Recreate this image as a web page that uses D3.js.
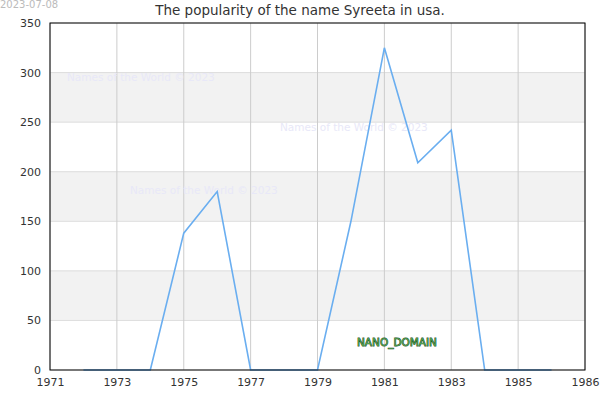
<!DOCTYPE html>
<html>
<head>
<meta charset="utf-8">
<script src="https://d3js.org/d3.v7.min.js"></script>
<style>
  body { margin: 0; background: #fff; }
  text { font-family: "DejaVu Sans", sans-serif; }
</style>
</head>
<body>
<svg width="600" height="400"></svg>
<script>
    const years = [1972, 1973, 1974, 1975, 1976, 1977, 1978, 1979, 1980, 1981, 1982, 1983, 1984, 1985, 1986];
    const counts = [0, 0, 0, 138, 180, 0, 0, 0, 150, 325, 209, 242, 0, 0, 0];
    const xTickValues = [1971, 1973, 1975, 1977, 1979, 1981, 1983, 1985, 1987];
    const xTickLabels = ["1971", "1973", "1975", "1977", "1979", "1981", "1983", "1985", "1986"];
    const yTicks = [0, 50, 100, 150, 200, 250, 300, 350];
    const bands = [[50, 100], [150, 200], [250, 300]];

    const margin = {top: 23, right: 15, bottom: 30, left: 50};
    const width = 600, height = 400;

    const svg = d3.select("svg");

    const x = d3.scaleLinear().domain([1971, 1987]).range([margin.left, width - margin.right]);
    const y = d3.scaleLinear().domain([0, 350]).range([height - margin.bottom, margin.top]);

    // alternating bands
    svg.append('g')
        .selectAll('rect')
        .data(bands)
        .enter()
        .append('rect')
        .attr('x', x(1971))
        .attr('width', x(1987) - x(1971))
        .attr('y', d => y(d[1]))
        .attr('height', d => y(d[0]) - y(d[1]))
        .attr('fill', '#f2f2f2');

    // horizontal grid
    svg.append('g')
        .selectAll('line')
        .data(yTicks)
        .enter()
        .append('line')
        .attr('x1', x(1971))
        .attr('x2', x(1987))
        .attr('y1', d => y(d))
        .attr('y2', d => y(d))
        .attr('stroke', '#dddddd');

    // vertical grid
    svg.append('g')
        .selectAll('line')
        .data(xTickValues)
        .enter()
        .append('line')
        .attr('x1', d => x(d))
        .attr('x2', d => x(d))
        .attr('y1', y(0))
        .attr('y2', y(350))
        .attr('stroke', '#cccccc');

    // watermarks
    const wm = [[67, 81], [280, 131], [130, 194]];
    svg.append('g')
        .selectAll('text')
        .data(wm)
        .enter()
        .append('text')
        .attr('x', d => d[0])
        .attr('y', d => d[1])
        .attr('font-size', 10.5)
        .attr('fill', '#e8e8f8')
        .text('Names of the World © 2023');

    // line
    const line = d3.line()
        .x((d, i) => x(years[i]))
        .y(d => y(d));

    svg.append('path')
        .datum(counts)
        .attr('d', line)
        .attr('fill', 'none')
        .attr('stroke', '#6aaef0')
        .attr('stroke-width', 1.6);

    // frame
    svg.append('rect')
        .attr('x', x(1971))
        .attr('y', y(350))
        .attr('width', x(1987) - x(1971))
        .attr('height', y(0) - y(350))
        .attr('fill', 'none')
        .attr('stroke', 'black');

    // axes
    const xAxis = svg.append('g')
        .attr('transform', `translate(0,${y(0)})`)
        .call(d3.axisBottom(x).tickValues(xTickValues).tickSize(0).tickPadding(8)
            .tickFormat((d, i) => xTickLabels[i]));
    xAxis.select('.domain').remove();
    xAxis.selectAll('text').attr('font-size', 11).attr('fill', '#333').attr('font-family', '"DejaVu Sans", sans-serif');

    const yAxis = svg.append('g')
        .attr('transform', `translate(${x(1971)},0)`)
        .call(d3.axisLeft(y).tickValues(yTicks).tickSize(0).tickPadding(9));
    yAxis.select('.domain').remove();
    yAxis.selectAll('text').attr('font-size', 11).attr('fill', '#333').attr('font-family', '"DejaVu Sans", sans-serif');

    // title
    svg.append('text')
        .attr('x', 300)
        .attr('y', 15)
        .attr('text-anchor', 'middle')
        .attr('font-size', 13.5)
        .attr('fill', '#333')
        .text('The popularity of the name Syreeta in usa.');

    // date
    svg.append('text')
        .attr('x', 0)
        .attr('y', 8)
        .attr('font-size', 10)
        .attr('fill', '#bbbbbb')
        .text('2023-07-08');

    // domain label
    svg.append('text')
        .attr('x', 397)
        .attr('y', 346)
        .attr('text-anchor', 'middle')
        .attr('font-size', 10.5)
        .attr('fill', '#4f9f4f')
        .attr('stroke', '#1e4d1e')
        .attr('stroke-width', 0.8)
        .attr('paint-order', 'stroke')
        .text('NANO_DOMAIN');
</script>
</body>
</html>
